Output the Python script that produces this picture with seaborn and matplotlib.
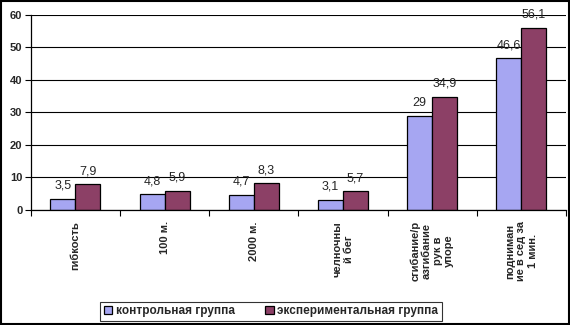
import matplotlib
matplotlib.use("Agg")
import matplotlib.pyplot as plt
import seaborn as sns
import pandas as pd
import numpy as np
from matplotlib.patches import Rectangle

categories = ["гибкость", "100 м.", "2000 м.", "челночны\nй бег",
              "сгибание/р\nазгибание\nрук в\nупоре", "подниман\nие в сед за\n1 мин."]
control = [3.5, 4.8, 4.7, 3.1, 29, 46.6]
experimental = [7.9, 5.9, 8.3, 5.7, 34.9, 56.1]
series_names = ["контрольная группа", "экспериментальная группа"]
yticks = [0, 10, 20, 30, 40, 50, 60]

sns.set_theme(style="white")
plt.rcParams['font.family'] = ['Liberation Sans', 'DejaVu Sans']

df = pd.DataFrame({
    "cat": categories * 2,
    "val": control + experimental,
    "grp": [series_names[0]] * len(categories) + [series_names[1]] * len(categories),
})

fig = plt.figure(figsize=(5.7, 3.25), dpi=100)
ax = fig.add_axes([0.054, 0.354, 0.939, 0.600])
sns.barplot(data=df, x="cat", y="val", hue="grp", order=categories,
            hue_order=series_names, palette=["#9999FF", "#993366"],
            width=0.56, edgecolor="black", linewidth=0.9, ax=ax, errorbar=None,
            legend=True)

ax.set_ylim(0, 60)
ax.set_xlim(-0.5, len(categories) - 0.5)
ax.set_yticks(yticks)
ax.set_yticklabels([str(t) for t in yticks], fontsize=8, fontweight="bold")
ax.yaxis.grid(True, color="black", linewidth=0.8)
ax.set_axisbelow(True)
ax.set_xlabel("")
ax.set_ylabel("")
ax.set_xticks(range(len(categories)))
ax.set_xticklabels(categories, rotation=90, fontsize=8, fontweight="bold",
                   va="top", ha="center", linespacing=1.15, multialignment="center")
ax.tick_params(axis="x", which="major", length=0, pad=8)
ax.set_xticks(np.arange(-0.5, len(categories)), minor=True)
ax.tick_params(axis="x", which="minor", length=4, width=0.8, color="black", bottom=True)
ax.tick_params(axis="y", length=4, width=0.8, color="black", left=True, pad=2)
for s in ["top", "right"]:
    ax.spines[s].set_visible(False)
for s in ["left", "bottom"]:
    ax.spines[s].set_color("black")
    ax.spines[s].set_linewidth(0.9)

for cont in ax.containers:
    labels = [("%g" % v).replace(".", ",") for v in cont.datavalues]
    ax.bar_label(cont, labels=labels, padding=5, fontsize=9)

leg = ax.legend(loc="center", bbox_to_anchor=(0.449, -0.52),
                ncol=2, frameon=True, fancybox=False, edgecolor="black",
                prop={"size": 8.5, "weight": "bold"}, handlelength=0.7, handleheight=0.7,
                handletextpad=0.3, columnspacing=2.6, borderpad=0.3)
leg.get_frame().set_linewidth(0.8)

fig.patches.append(Rectangle((0.002, 0.002), 0.996, 0.996, transform=fig.transFigure,
                             fill=False, edgecolor="black", linewidth=1.5))
fig.savefig("out.png", dpi=100)
